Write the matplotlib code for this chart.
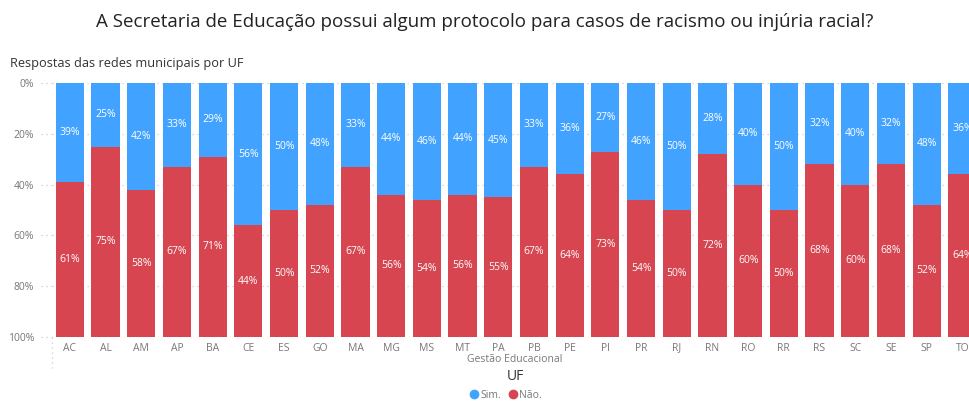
import matplotlib.pyplot as plt
from matplotlib.lines import Line2D
import numpy as np

ufs = ["AC", "AL", "AM", "AP", "BA", "CE", "ES", "GO", "MA", "MG", "MS", "MT", "PA",
       "PB", "PE", "PI", "PR", "RJ", "RN", "RO", "RR", "RS", "SC", "SE", "SP", "TO"]
sim = [39, 25, 42, 33, 29, 56, 50, 48, 33, 44, 46, 44, 45,
       33, 36, 27, 46, 50, 28, 40, 50, 32, 40, 32, 48, 36]
nao = [61, 75, 58, 67, 71, 44, 50, 52, 67, 56, 54, 56, 55,
       67, 64, 73, 54, 50, 72, 60, 50, 68, 60, 68, 52, 64]
y_ticks = [0, 20, 40, 60, 80, 100]

blue = "#41A3FF"
red = "#D64550"
grey = "#777777"

W, H = 969, 401
fig = plt.figure(figsize=(W / 100, H / 100), dpi=100)
plt.rcParams["font.family"] = ["Open Sans", "DejaVu Sans"]

# axes box in pixel terms: left 52, top 83, bottom 337, slot 35.7 px
left, top, bottom, slot = 52, 83, 337, 35.7
ax = fig.add_axes([left / W, 1 - bottom / H, slot * len(ufs) / W, (bottom - top) / H])

x = np.arange(len(ufs))
sim = np.array(sim, dtype=float)
nao = np.array(nao, dtype=float)
ax.bar(x, sim, width=0.79, color=blue, zorder=3)
ax.bar(x, nao, width=0.79, bottom=sim, color=red, zorder=3)

for i in range(len(ufs)):
    ax.text(x[i], sim[i] / 2, f"{sim[i]:.0f}%", ha="center", va="center",
            color="white", fontsize=7.5, zorder=4)
    ax.text(x[i], sim[i] + nao[i] / 2, f"{nao[i]:.0f}%", ha="center", va="center",
            color="white", fontsize=7.5, zorder=4)

ax.set_xlim(-0.5, len(ufs) - 0.5)
ax.set_ylim(100, 0)
ax.set_yticks(y_ticks)
ax.set_yticklabels([f"{t}%" for t in y_ticks])
ax.set_xticks(x)
ax.set_xticklabels(ufs)
ax.tick_params(axis="y", length=0, pad=13, labelsize=7.5, labelcolor=grey)
ax.tick_params(axis="x", length=0, pad=4, labelsize=7.5, labelcolor=grey)
ax.grid(axis="y", color="#cccccc", linestyle=(0, (1, 3)), linewidth=0.9, zorder=0)
for s in ax.spines.values():
    s.set_visible(False)

# dotted stub below the y axis and grid stubs left of it
fig.add_artist(Line2D([left / W, left / W], [1 - 337 / H, 1 - 368 / H],
                      color="#cccccc", linestyle=(0, (1, 3)), linewidth=0.9))
for t in y_ticks:
    yp = 1 - (top + (bottom - top) * t / 100) / H
    fig.add_artist(Line2D([41 / W, left / W], [yp, yp],
                          color="#cccccc", linestyle=(0, (1, 3)), linewidth=0.9))

fig.text(485 / W, 1 - 22 / H,
         "A Secretaria de Educação possui algum protocolo para casos de racismo ou injúria racial?",
         ha="center", va="center", fontsize=13.5, color="#222222")
fig.text(10 / W, 1 - 63 / H, "Respostas das redes municipais por UF",
         ha="left", va="center", fontsize=9.2, color="#333333")
fig.text(515 / W, 1 - 360 / H, "Gestão Educacional", ha="center", va="center",
         fontsize=7.5, color=grey)
fig.text(515 / W, 1 - 377 / H, "UF", ha="center", va="center",
         fontsize=10, color="#333333")

handles = [Line2D([], [], marker="o", linestyle="", markersize=6, color=blue, label="Sim."),
           Line2D([], [], marker="o", linestyle="", markersize=6, color=red, label="Não.")]
fig.legend(handles=handles, loc="center", bbox_to_anchor=(505 / W, 1 - 395 / H),
           ncol=2, frameon=False, fontsize=7.5, handletextpad=0.0, columnspacing=0.5,
           labelcolor=grey, borderpad=0, handlelength=1.2)

fig.savefig("out.png", dpi=100)
